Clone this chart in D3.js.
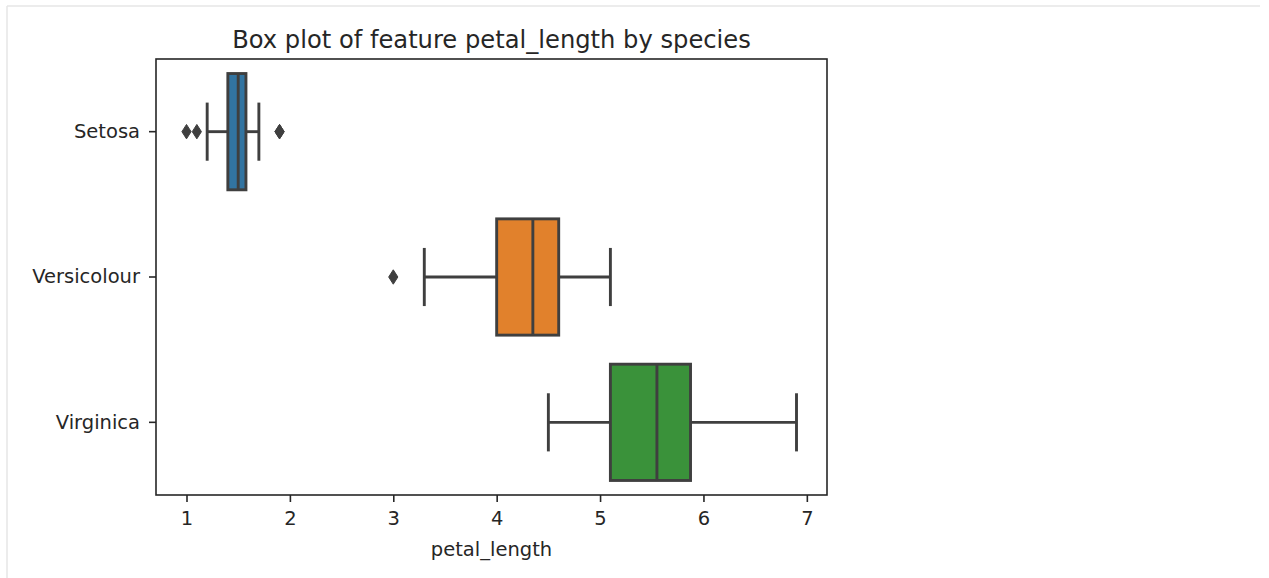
<!DOCTYPE html>
<html>
<head>
<meta charset="utf-8">
<script src="https://cdn.jsdelivr.net/npm/d3@7"></script>
<style>
  html, body { margin: 0; padding: 0; background: #fff; }
  svg { display: block; }
  text { font-family: "DejaVu Sans", sans-serif; fill: #262626; }
</style>
</head>
<body>
<svg id="chart" width="1269" height="578"></svg>
<script>
// ---- data ----
const species = ["Setosa", "Versicolour", "Virginica"];
const q1 = [1.4, 4.0, 5.1];
const medians = [1.5, 4.35, 5.55];
const q3 = [1.575, 4.6, 5.875];
const whiskerLow = [1.2, 3.3, 4.5];
const whiskerHigh = [1.7, 5.1, 6.9];
const outliers = [[1.0, 1.1, 1.9, 1.9], [3.0], []];
const colors = ["#3274a1", "#e1812c", "#3a923a"];
const xTicks = [1, 2, 3, 4, 5, 6, 7];
const xDomain = [0.705, 7.195];
const titleText = "Box plot of feature petal_length by species";
const xLabel = "petal_length";

// ---- layout ----
const svg = d3.select("#chart");
const plot = { left: 156, right: 827, top: 59, bottom: 495 };
const lineColor = "#3f3f3f";
const axisColor = "#262626";

// light frame of the notebook output cell
svg.append("line").attr("x1", 7).attr("x2", 1260).attr("y1", 6).attr("y2", 6)
  .attr("stroke", "#e6e6e6").attr("stroke-width", 1.5);
svg.append("line").attr("x1", 7).attr("x2", 7).attr("y1", 6).attr("y2", 578)
  .attr("stroke", "#e6e6e6").attr("stroke-width", 1.5);

const x = d3.scaleLinear().domain(xDomain).range([plot.left, plot.right]);
const y = d3.scaleBand().domain(species).range([plot.top, plot.bottom]).padding(0);

const boxH = y.bandwidth() * 0.8;
const capH = boxH * 0.5;

const g = svg.append("g");

species.forEach((sp, i) => {
  const cy = y(sp) + y.bandwidth() / 2;
  const grp = g.append("g");
  // whiskers
  grp.append("line").attr("x1", x(whiskerLow[i])).attr("x2", x(q1[i]))
    .attr("y1", cy).attr("y2", cy).attr("stroke", lineColor).attr("stroke-width", 2.9);
  grp.append("line").attr("x1", x(q3[i])).attr("x2", x(whiskerHigh[i]))
    .attr("y1", cy).attr("y2", cy).attr("stroke", lineColor).attr("stroke-width", 2.9);
  // caps
  [whiskerLow[i], whiskerHigh[i]].forEach(v => {
    grp.append("line").attr("x1", x(v)).attr("x2", x(v))
      .attr("y1", cy - capH / 2).attr("y2", cy + capH / 2)
      .attr("stroke", lineColor).attr("stroke-width", 2.9);
  });
  // box
  grp.append("rect").attr("x", x(q1[i])).attr("width", x(q3[i]) - x(q1[i]))
    .attr("y", cy - boxH / 2).attr("height", boxH)
    .attr("fill", colors[i]).attr("stroke", lineColor).attr("stroke-width", 2.9);
  // median
  grp.append("line").attr("x1", x(medians[i])).attr("x2", x(medians[i]))
    .attr("y1", cy - boxH / 2).attr("y2", cy + boxH / 2)
    .attr("stroke", lineColor).attr("stroke-width", 2.9);
  // outliers (thin diamonds)
  outliers[i].forEach(v => {
    const hx = 4.6, hy = 7.2;
    const px = x(v);
    grp.append("path")
      .attr("d", `M${px},${cy - hy}L${px + hx},${cy}L${px},${cy + hy}L${px - hx},${cy}Z`)
      .attr("fill", lineColor).attr("stroke", lineColor).attr("stroke-width", 1);
  });
});

// ---- axes ----
const xAxis = d3.axisBottom(x).tickValues(xTicks).tickFormat(d3.format("d"))
  .tickSizeInner(7).tickSizeOuter(0).tickPadding(9);
const gx = svg.append("g").attr("transform", `translate(0,${plot.bottom})`).call(xAxis);
gx.select(".domain").remove();
gx.selectAll(".tick line").attr("stroke", axisColor).attr("stroke-width", 1.6);
gx.selectAll(".tick text").attr("font-size", 19.5).attr("fill", axisColor)
  .attr("font-family", "DejaVu Sans, sans-serif");

const yAxis = d3.axisLeft(y).tickSizeInner(7).tickSizeOuter(0).tickPadding(9);
const gy = svg.append("g").attr("transform", `translate(${plot.left},0)`).call(yAxis);
gy.select(".domain").remove();
gy.selectAll(".tick line").attr("stroke", axisColor).attr("stroke-width", 1.6);
gy.selectAll(".tick text").attr("font-size", 19.5).attr("fill", axisColor)
  .attr("font-family", "DejaVu Sans, sans-serif");

// frame (spines)
svg.append("rect").attr("x", plot.left).attr("y", plot.top)
  .attr("width", plot.right - plot.left).attr("height", plot.bottom - plot.top)
  .attr("fill", "none").attr("stroke", axisColor).attr("stroke-width", 1.6);

// title and label
svg.append("text").attr("x", (plot.left + plot.right) / 2).attr("y", 48)
  .attr("text-anchor", "middle").attr("font-size", 24.2).text(titleText);
svg.append("text").attr("x", (plot.left + plot.right) / 2).attr("y", 556)
  .attr("text-anchor", "middle").attr("font-size", 19.5).text(xLabel);
</script>
</body>
</html>
